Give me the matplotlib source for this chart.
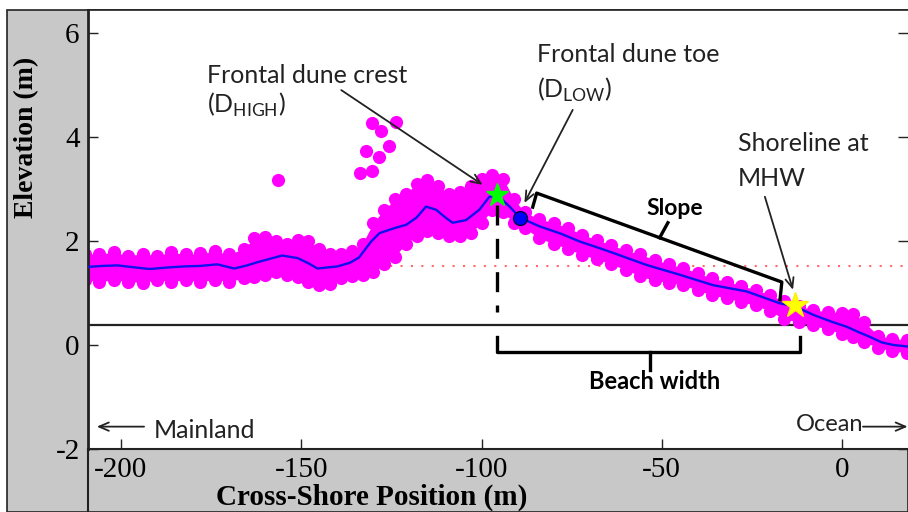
import matplotlib
matplotlib.use('Agg')
import matplotlib.pyplot as plt
from matplotlib.patches import Rectangle
from matplotlib.lines import Line2D

plt.rcParams['axes.unicode_minus'] = False

# blue smoothed profile (cross-shore position m, elevation m)
prof_x = [-209.5, -205, -201, -196, -192, -187, -182.5, -178, -173.3, -168.6,
          -165, -162.2, -158.5, -155.3, -151, -148, -145.5, -140, -136.5, -134,
          -130.6, -128.3, -124, -120.9, -118, -115.4, -112.6, -110, -108, -104.3,
          -100.6, -97.8, -95.5, -92.2, -89.4, -83.9, -78, -72.8, -67.2, -63.5,
          -54.3, -45, -35.8, -26.5, -17.2, -13, -8, -3, 1.3, 4.5,
          7.6, 11, 14.2, 18.3]
prof_z = [1.50, 1.52, 1.53, 1.49, 1.46, 1.49, 1.51, 1.52, 1.55, 1.47,
          1.53, 1.59, 1.66, 1.72, 1.67, 1.57, 1.47, 1.51, 1.58, 1.68,
          1.99, 2.15, 2.25, 2.31, 2.45, 2.66, 2.60, 2.45, 2.35, 2.40,
          2.60, 2.85, 2.87, 2.66, 2.45, 2.28, 2.14, 1.99, 1.86, 1.77,
          1.54, 1.35, 1.15, 1.03, 0.80, 0.74, 0.58, 0.45, 0.35, 0.25,
          0.16, 0.05, 0.00, -0.03]

# lidar point cloud, read as upper / lower edge of the magenta band
cloud_x = [-210, -206, -202, -198, -194, -190, -186, -182, -178, -174,
           -170, -166, -163, -160, -157, -154, -151, -148, -145, -142,
           -139, -136, -133, -130, -127, -124, -121, -118, -115, -112,
           -109, -106, -103, -100, -97, -94, -91, -88, -84, -80,
           -76, -72, -68, -64, -60, -56, -52, -48, -44, -40,
           -36, -32, -28, -24, -20, -16, -12, -8, -4, 0,
           3, 6, 10, 14, 18]
cloud_hi = [1.75, 1.75, 1.78, 1.72, 1.75, 1.72, 1.78, 1.74, 1.76, 1.80,
            1.74, 1.85, 2.05, 2.08, 2.00, 1.95, 2.02, 2.00, 1.85, 1.75,
            1.75, 1.80, 1.95, 2.35, 2.60, 2.80, 2.90, 3.10, 3.18, 3.05,
            2.90, 2.95, 3.05, 3.20, 3.27, 3.20, 2.80, 2.55, 2.42, 2.35,
            2.25, 2.12, 2.02, 1.92, 1.82, 1.74, 1.64, 1.55, 1.48, 1.38,
            1.28, 1.22, 1.14, 1.06, 0.96, 0.84, 0.75, 0.67, 0.64, 0.62,
            0.60, 0.45, 0.18, 0.12, 0.10]
cloud_lo = [1.25, 1.22, 1.25, 1.22, 1.20, 1.25, 1.22, 1.25, 1.22, 1.25,
            1.22, 1.28, 1.30, 1.35, 1.40, 1.35, 1.30, 1.22, 1.15, 1.18,
            1.28, 1.33, 1.35, 1.40, 1.55, 1.70, 1.95, 2.10, 2.20, 2.15,
            2.10, 2.10, 2.15, 2.35, 2.60, 2.55, 2.35, 2.25, 2.05, 1.95,
            1.85, 1.73, 1.65, 1.55, 1.45, 1.32, 1.24, 1.20, 1.15, 1.05,
            0.96, 0.90, 0.83, 0.76, 0.65, 0.50, 0.44, 0.38, 0.30, 0.22,
            0.15, 0.06, -0.05, -0.12, -0.15]

# isolated high returns behind the dune
outlier_x = [-156.4, -130.3, -123.6, -127.9, -125.6, -132.0, -128.5, -133.7, -130.4]
outlier_z = [3.17, 4.27, 4.28, 4.12, 3.83, 3.72, 3.62, 3.30, 3.35]

# feature points
crest = (-95.8, 2.88)
toe = (-89.4, 2.45)
shoreline = (-13.0, 0.77)
mhw = 1.52
datum = 0.38

fig = plt.figure(figsize=(9.08, 5.12), dpi=100)
fig.patch.set_facecolor('white')
fig.patches.append(Rectangle((7 / 908, 0), 1 - 7 / 908, 1 - 10 / 512, transform=fig.transFigure,
                             facecolor='#c8c8c8', edgecolor='#222222', lw=1.2, zorder=-2))
fig.lines.append(Line2D([88 / 908, 88 / 908], [0, 63 / 512], transform=fig.transFigure,
                        color='#222222', lw=1.5, zorder=-1))

ax = fig.add_axes([88 / 908, 63 / 512, 1 - 88 / 908, 439 / 512])
ax.set_zorder(1)
ax.set_facecolor('white')
ax.set_xlim(-209.15, 18.3)
ax.set_ylim(-2, 6.44)

ax.axhline(mhw, color='#ff6b6b', lw=1.5, ls=(0, (1, 4)), zorder=1)
ax.axhline(datum, color='#222222', lw=1.6, zorder=1)

ax.fill_between(cloud_x, cloud_lo, cloud_hi, color='#ff00ff', lw=0, zorder=2)
ax.scatter(cloud_x, cloud_hi, s=90, color='#ff00ff', lw=0, zorder=2)
ax.scatter(cloud_x, cloud_lo, s=90, color='#ff00ff', lw=0, zorder=2)
ax.scatter(outlier_x, outlier_z, s=90, color='#ff00ff', lw=0, zorder=2)
ax.plot(prof_x, prof_z, color='#1010ee', lw=1.7, zorder=3)

# dune crest to shoreline guide lines
ax.plot([crest[0], crest[0]], [2.69, 0.63], color='black', lw=2.4, ls=(0, (6, 4)), zorder=6)
bw_x = [crest[0], crest[0], -11.7, -11.7]
bw_z = [0.15, -0.13, -0.13, 0.15]
ax.plot(bw_x, bw_z, color='black', lw=2.4, solid_joinstyle='round', zorder=4)
ax.plot([-53.3, -53.3], [-0.13, -0.48], color='black', lw=2.4, zorder=4)
ax.text(-52, -0.70, 'Beach width', fontsize=17, fontweight='bold', family='Lato',
        ha='center', va='center')

sl_x = [-85.8, -84.7, -16.7, -17.2]
sl_z = [2.65, 2.92, 1.21, 0.87]
ax.plot(sl_x, sl_z, color='black', lw=2.4, zorder=4)
ax.plot([-50.6, -48.3], [2.06, 2.35], color='black', lw=2.4, zorder=4)
ax.text(-46.4, 2.63, 'Slope', fontsize=16.5, fontweight='bold', family='Lato',
        ha='center', va='center')

ax.plot(*crest, marker='*', ms=17, color='#00ff00', mec='#00ff00', zorder=7)
ax.plot(*toe, marker='o', ms=10, color='#0000ff', mec='#000040', mew=1, zorder=7)
ax.plot(*shoreline, marker='*', ms=19, color='#ffff00', mec='#ffee00', zorder=7)

txt = dict(fontsize=18, family='Lato', color='#222222', va='center', ha='left')
arr = dict(arrowstyle='->,head_length=0.7,head_width=0.3', color='#222222', lw=1.3,
           shrinkA=0, shrinkB=0)
ax.text(-176.1, 5.19, 'Frontal dune crest', **txt)
ax.text(-176.1, 4.62, r'(D$_\mathregular{HIGH}$)', **txt)
ax.annotate('', xy=(-99.7, 3.08), xytext=(-138.9, 4.90), arrowprops=arr)

ax.text(-84.7, 5.58, 'Frontal dune toe', **txt)
ax.text(-84.7, 4.90, r'(D$_\mathregular{LOW}$)', **txt)
ax.annotate('', xy=(-88.1, 2.73), xytext=(-74.7, 4.52), arrowprops=arr)

ax.text(-28.9, 3.88, 'Shoreline at', **txt)
ax.text(-28.9, 3.21, 'MHW', **txt)
ax.annotate('', xy=(-13.6, 1.06), xytext=(-21.4, 2.85), arrowprops=arr)

ax.text(-190.8, -1.64, 'Mainland', **txt)
ax.annotate('', xy=(-206.7, -1.57), xytext=(-193.6, -1.57), arrowprops=arr)
ax.text(5.8, -1.52, 'Ocean', fontsize=17, family='Lato', color='#222222', va='center', ha='right')
ax.annotate('', xy=(18.2, -1.57), xytext=(5.8, -1.57), arrowprops=arr, annotation_clip=False)

ax.set_xticks([-200, -150, -100, -50, 0])
ax.set_yticks([-2, 0, 2, 4, 6])
ax.tick_params(axis='both', direction='in', length=7, width=1, labelsize=21, pad=6,
               colors='#222222', labelcolor='black')
ax.tick_params(axis='y', right=True)
for lab in ax.get_xticklabels() + ax.get_yticklabels():
    lab.set_family('Liberation Serif')

ax.spines['left'].set_linewidth(2)
ax.spines['bottom'].set_linewidth(1.5)
ax.spines['top'].set_linewidth(1.2)
ax.spines['right'].set_visible(False)
for s in ax.spines.values():
    s.set_color('#222222')

fig.text(27 / 908, 1 - 137 / 512, 'Elevation (m)', rotation=90, ha='center', va='center',
         fontsize=20, fontweight='bold', family='Liberation Serif')
fig.text(372 / 908, 1 - 497 / 512, 'Cross-Shore Position (m)', ha='center', va='center',
         fontsize=21, fontweight='bold', family='Liberation Serif')

fig.savefig('out.png', dpi=100)
